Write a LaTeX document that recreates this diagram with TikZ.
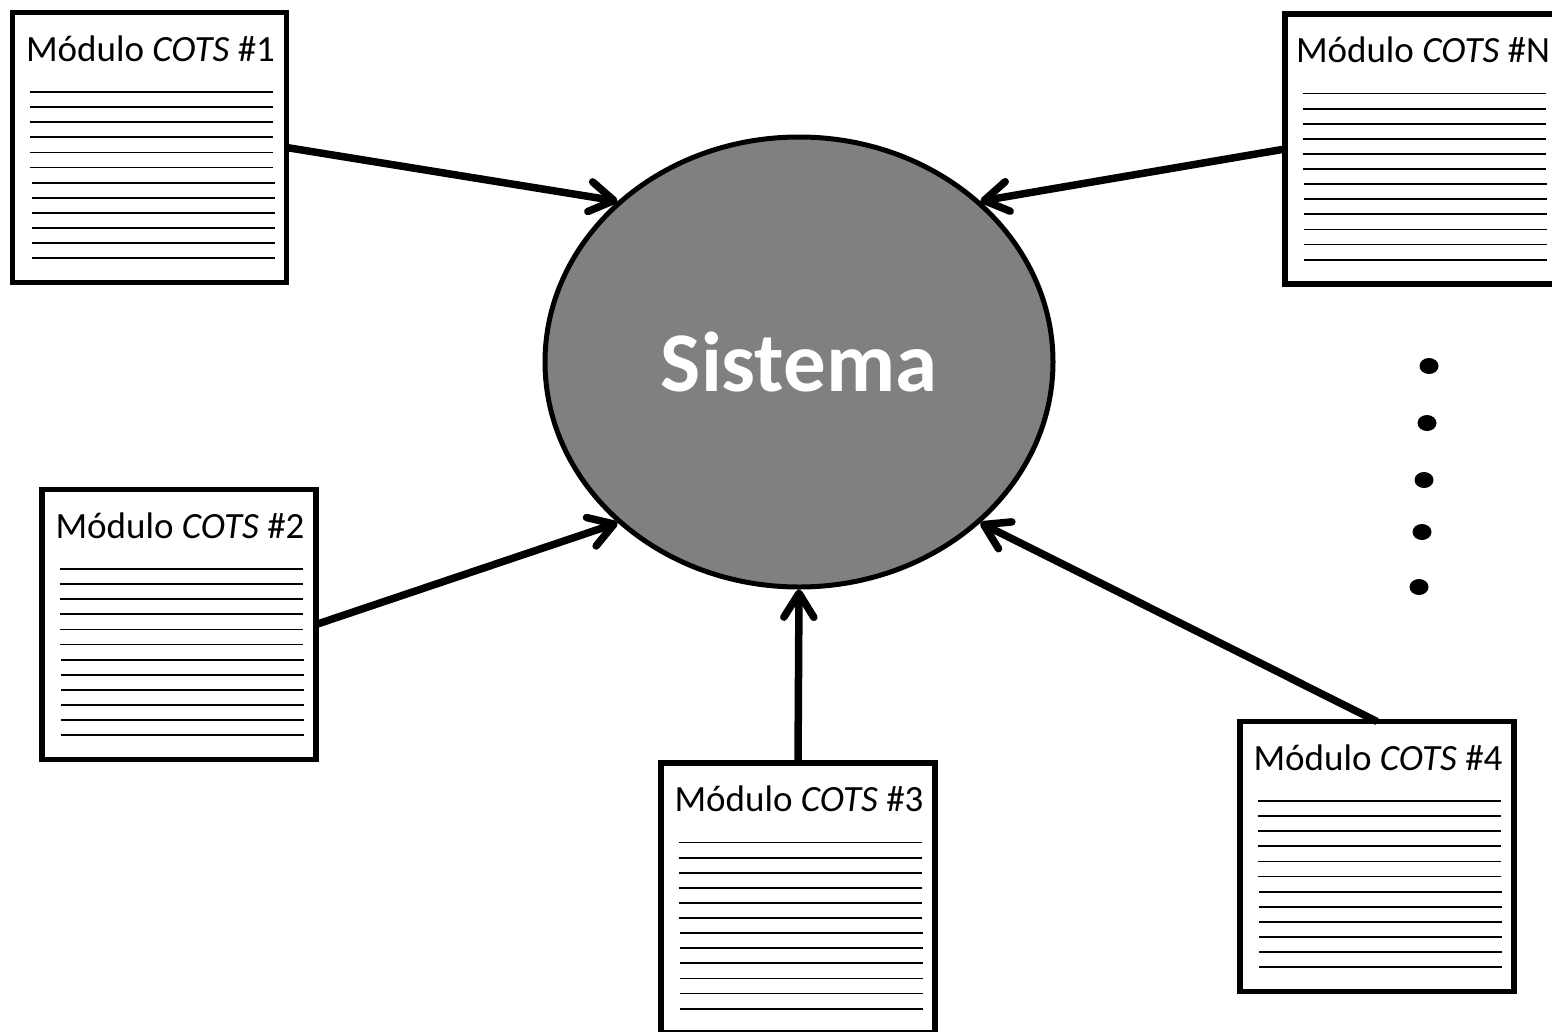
\documentclass[tikz,border=0pt]{standalone}
\usepackage{fontspec}
\setmainfont{Carlito}
\usetikzlibrary{arrows.meta,shapes.geometric}
\definecolor{sysgray}{RGB}{128,128,128}
\newcommand\cotsbox[4]{%
  \node[cbox] (#1) at (#2,#3) {};
  \begin{scope}[shift={(#1.center)}]
    \node[ctext, anchor=base] (#1lbl) at (1,-86.5) {Módulo \textit{COTS} \##4};
    \foreach \k in {0,...,5} \draw[rule] (-119.5,-55.5+15.1*\k) -- (123.5,-55.5+15.1*\k);
    \foreach \k in {6,...,11} \draw[rule] (-118,-55.5+15.1*\k) -- (125,-55.5+15.1*\k);
  \end{scope}}
\begin{document}
\begin{tikzpicture}[x=1pt,y=-1pt,
  cbox/.style={draw, line width=5.5pt, fill=white, minimum width=274pt, minimum height=270pt, inner sep=0pt, outer sep=0pt},
  ctext/.style={font=\fontsize{37}{40}\selectfont, inner sep=0pt},
  rule/.style={line width=1.8pt},
  conn/.style={line width=7.5pt, -{Straight Barb[length=24pt,width=30pt,round]}},
  sysnode/.style={ellipse, draw, line width=5pt, fill=sysgray, minimum width=508pt, minimum height=450pt, inner sep=0pt, text=white, font=\bfseries\fontsize{85}{90}\selectfont},
  dotnode/.style={ellipse, fill=black, minimum width=19pt, minimum height=16pt, inner sep=0pt}]
\clip (0,0) rectangle (1552,1031);
\fill[white] (0,0) rectangle (1552,1031);

\node[sysnode] (sys) at (799,362) {Sistema};

\cotsbox{m1}{149.5}{147.5}{1}
\cotsbox{mN}{1422}{149}{N}
\cotsbox{m2}{179}{624.5}{2}
\cotsbox{m3}{798}{898}{3}
\cotsbox{m4}{1377}{856.5}{4}

\draw[conn] (m1.east) -- (sys.north west);
\draw[conn] (mN.west) -- (sys.north east);
\draw[conn] (m2.east) -- (sys.south west);
\draw[conn] (m3.north) -- (sys.south);
\draw[conn] (m4.north) -- (sys.south east);

\node[dotnode] (d1) at (1429,366) {};
\node[dotnode] (d2) at (1427,423) {};
\node[dotnode] (d3) at (1424,480) {};
\node[dotnode] (d4) at (1422,532) {};
\node[dotnode] (d5) at (1419,587) {};
\end{tikzpicture}
\end{document}
